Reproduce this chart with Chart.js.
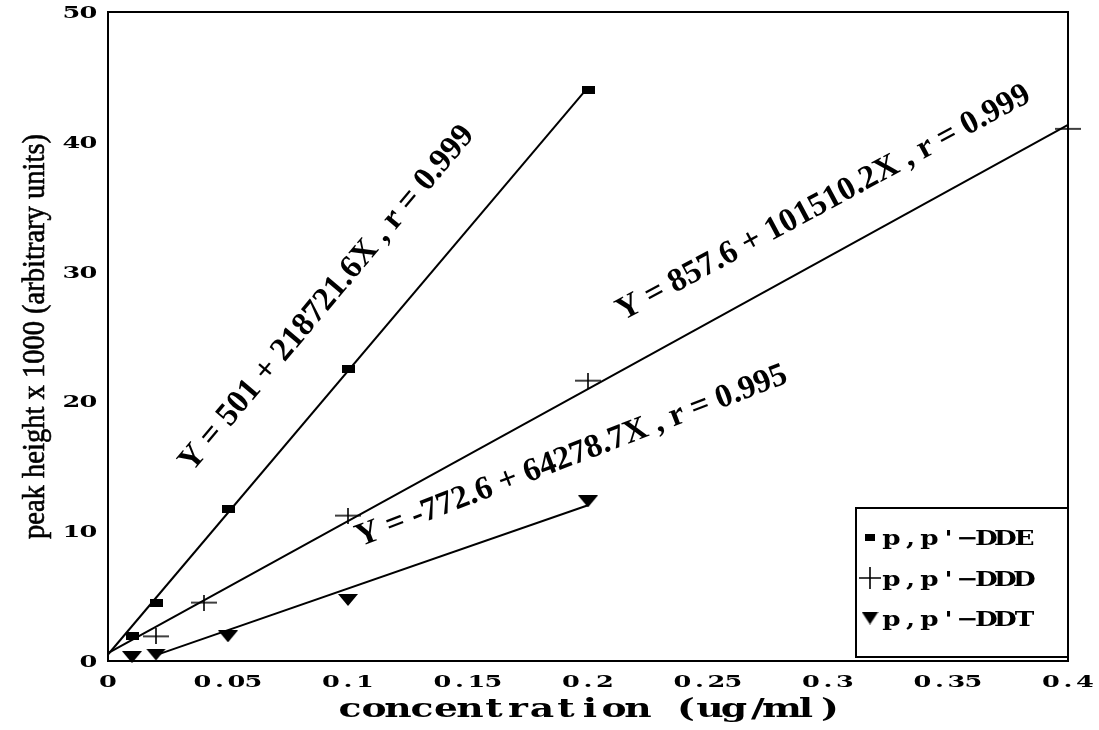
<!DOCTYPE html>
<html>
<head>
<meta charset="utf-8">
<title>Calibration curves</title>
<script src="https://cdn.jsdelivr.net/npm/chart.js@4.4.1/dist/chart.umd.min.js"></script>
<style>
  html, body { margin: 0; padding: 0; background: #ffffff; }
  #wrap { width: 1099px; height: 730px; }
</style>
</head>
<body>
<div id="wrap"><canvas id="chart" width="1099" height="730"></canvas></div>
<script>
// ---- data -------------------------------------------------------------
const seriesNames = ["p,p'\u2212DDE", "p,p'\u2212DDD", "p,p'\u2212DDT"];

// measured standards: concentration (ug/ml) vs peak height x 1000
const ddeConc = [0.01, 0.02, 0.05, 0.1, 0.2];
const ddePeak = [1.9, 4.5, 11.7, 22.5, 44.0];
const dddConc = [0.02, 0.04, 0.1, 0.2, 0.4];
const dddPeak = [1.9, 4.5, 11.2, 21.6, 41.0];
const ddtConc = [0.01, 0.02, 0.05, 0.1, 0.2];
const ddtPeak = [0.3, 0.5, 1.9, 4.7, 12.3];

// drawn calibration lines (end points)
const ddeLineConc = [0, 0.2];
const ddeLinePeak = [0.5, 44.2];
const dddLineConc = [0, 0.4];
const dddLinePeak = [0.6, 41.3];
const ddtLineConc = [0.02, 0.2];
const ddtLinePeak = [0.45, 12.0];

// regression equations
const equations = [
  "Y = 501 + 218721.6X , r = 0.999",
  "Y = 857.6 + 101510.2X , r = 0.999",
  "Y = -772.6 + 64278.7X , r = 0.995"
];

// axes
const xTickValues = [0, 0.05, 0.1, 0.15, 0.2, 0.25, 0.3, 0.35, 0.4];
const xTickLabels = ["0", "0.05", "0.1", "0.15", "0.2", "0.25", "0.3", "0.35", "0.4"];
const yTickValues = [0, 10, 20, 30, 40, 50];
const yTickLabels = ["0", "10", "20", "30", "40", "50"];
const xTitle = "concentration (ug/ml)";
const yTitle = "peak height x 1000 (arbitrary units)";

// ---- helpers ----------------------------------------------------------
function pairs(xs, ys) { return xs.map((x, i) => ({ x: x, y: ys[i] })); }

function markerCanvas(w, h, draw) {
  const c = document.createElement('canvas');
  c.width = w; c.height = h;
  const g = c.getContext('2d');
  g.fillStyle = '#000'; g.strokeStyle = '#000';
  draw(g, w, h);
  return c;
}
function crossCanvas(w, h) {
  return markerCanvas(w, h, (g) => {
    g.lineWidth = 1.6;
    g.beginPath();
    g.moveTo(0, h / 2); g.lineTo(w, h / 2);
    g.moveTo(w / 2, 0); g.lineTo(w / 2, h);
    g.stroke();
  });
}
const squareMark = markerCanvas(13, 8, (g, w, h) => { g.fillRect(0, 0, w, h); });
const crossMark = crossCanvas(26, 16);
const triangleMark = markerCanvas(20, 12, (g, w, h) => {
  g.beginPath(); g.moveTo(0, 0); g.lineTo(w, 0); g.lineTo(w / 2, h); g.closePath(); g.fill();
});
const legendSquare = markerCanvas(10, 7, (g, w, h) => { g.fillRect(0, 0, w, h); });
const legendCross = crossCanvas(22, 22);
const legendTriangle = markerCanvas(17, 13, (g, w, h) => {
  g.beginPath(); g.moveTo(0, 0); g.lineTo(w, 0); g.lineTo(w / 2, h); g.closePath(); g.fill();
});
const markers = [squareMark, crossMark, triangleMark];
const legendMarkers = [legendSquare, legendCross, legendTriangle];

// typewriter-style text: every character sits in a fixed-width cell
function cellText(ctx, text, x, y, cell, font, sx, align) {
  const total = cell * text.length;
  const start = align === 'center' ? x - total / 2 : align === 'right' ? x - total : x;
  ctx.save();
  ctx.font = font;
  ctx.textAlign = 'center';
  ctx.textBaseline = 'alphabetic';
  for (let i = 0; i < text.length; i++) {
    ctx.save();
    ctx.translate(start + cell * (i + 0.5), y);
    ctx.scale(sx, 1);
    ctx.fillText(text[i], 0, 0);
    ctx.restore();
  }
  ctx.restore();
}

const slabTick = 'bold 16px "DejaVu Serif"';
const slabTitle = 'bold 26px "DejaVu Serif"';
const slabLegend = 'bold 21px "DejaVu Serif"';
const serifEq = 'bold 33px "Liberation Serif"';
const serifTitle = '32px "Liberation Serif"';

// placement of the equation labels, in data units, with baseline angle
const eqPlacement = [
  { x: 0.035, y: 14.5, deg: 50 },
  { x: 0.2145, y: 26.2, deg: 28.3 },
  { x: 0.105, y: 8.8, deg: 21 }
];

const decorations = {
  id: 'decorations',
  beforeDatasetsDraw(chart) {
    const { ctx, chartArea: a } = chart;
    ctx.save();
    ctx.strokeStyle = '#000';
    ctx.lineWidth = 2;
    ctx.strokeRect(a.left, a.top, a.right - a.left, a.bottom - a.top);
    ctx.restore();
  },
  afterDatasetsDraw(chart) {
    const { ctx, chartArea: a, scales } = chart;
    const xs = scales.x, ys = scales.y;
    ctx.save();
    ctx.fillStyle = '#000';

    // tick labels
    xTickValues.forEach((v, i) => {
      cellText(ctx, xTickLabels[i], xs.getPixelForValue(v), a.bottom + 26, 17, slabTick, 1.6, 'center');
    });
    yTickValues.forEach((v, i) => {
      cellText(ctx, yTickLabels[i], a.left - 11, ys.getPixelForValue(v) + 6, 17, slabTick, 1.6, 'right');
    });

    // axis titles
    cellText(ctx, xTitle, (a.left + a.right) / 2 + 2, 717, 24, slabTitle, 1.45, 'center');
    ctx.save();
    ctx.font = serifTitle;
    const w = ctx.measureText(yTitle).width;
    ctx.translate(36, (a.top + a.bottom) / 2);
    ctx.rotate(-Math.PI / 2);
    ctx.scale(405 / w, 1);
    ctx.textAlign = 'center';
    ctx.textBaseline = 'middle';
    ctx.strokeStyle = '#000';
    ctx.lineWidth = 0.6;
    ctx.fillText(yTitle, 0, 0);
    ctx.strokeText(yTitle, 0, 0);
    ctx.restore();

    // regression equations
    equations.forEach((eq, i) => {
      const p = eqPlacement[i];
      ctx.save();
      ctx.font = serifEq;
      ctx.textAlign = 'left';
      ctx.textBaseline = 'alphabetic';
      ctx.translate(xs.getPixelForValue(p.x), ys.getPixelForValue(p.y));
      ctx.rotate(-p.deg * Math.PI / 180);
      ctx.fillText(eq, 0, 0);
      ctx.restore();
    });

    // legend box
    const box = { left: 856, top: 508, right: a.right, bottom: 657 };
    ctx.strokeStyle = '#000';
    ctx.lineWidth = 2;
    ctx.strokeRect(box.left, box.top, box.right - box.left, box.bottom - box.top);
    const rows = [537, 578, 618];
    seriesNames.forEach((name, i) => {
      const m = legendMarkers[i];
      ctx.drawImage(m, 870 - m.width / 2, rows[i] - m.height / 2);
      cellText(ctx, name, 882, rows[i] + 8, 19, slabLegend, 1.25, 'left');
    });
    ctx.restore();
  }
};

const lineStyle = { showLine: true, pointRadius: 0, borderColor: '#000', borderWidth: 2, fill: false, clip: false };
const pointStyleBase = { showLine: false, pointRadius: 10, pointHoverRadius: 10, clip: false };

new Chart(document.getElementById('chart'), {
  type: 'scatter',
  data: {
    datasets: [
      Object.assign({ label: seriesNames[0] + ' line', data: pairs(ddeLineConc, ddeLinePeak) }, lineStyle),
      Object.assign({ label: seriesNames[1] + ' line', data: pairs(dddLineConc, dddLinePeak) }, lineStyle),
      Object.assign({ label: seriesNames[2] + ' line', data: pairs(ddtLineConc, ddtLinePeak) }, lineStyle),
      Object.assign({ label: seriesNames[0], data: pairs(ddeConc, ddePeak), pointStyle: markers[0] }, pointStyleBase),
      Object.assign({ label: seriesNames[1], data: pairs(dddConc, dddPeak), pointStyle: markers[1] }, pointStyleBase),
      Object.assign({ label: seriesNames[2], data: pairs(ddtConc, ddtPeak), pointStyle: markers[2] }, pointStyleBase)
    ]
  },
  options: {
    responsive: false,
    animation: false,
    devicePixelRatio: 1,
    layout: { padding: { left: 108, right: 31, top: 12, bottom: 69 } },
    plugins: { legend: { display: false }, tooltip: { enabled: false }, title: { display: false } },
    events: [],
    scales: {
      x: { type: 'linear', min: 0, max: 0.4, display: false },
      y: { type: 'linear', min: 0, max: 50, display: false }
    }
  },
  plugins: [decorations]
});
</script>
</body>
</html>
